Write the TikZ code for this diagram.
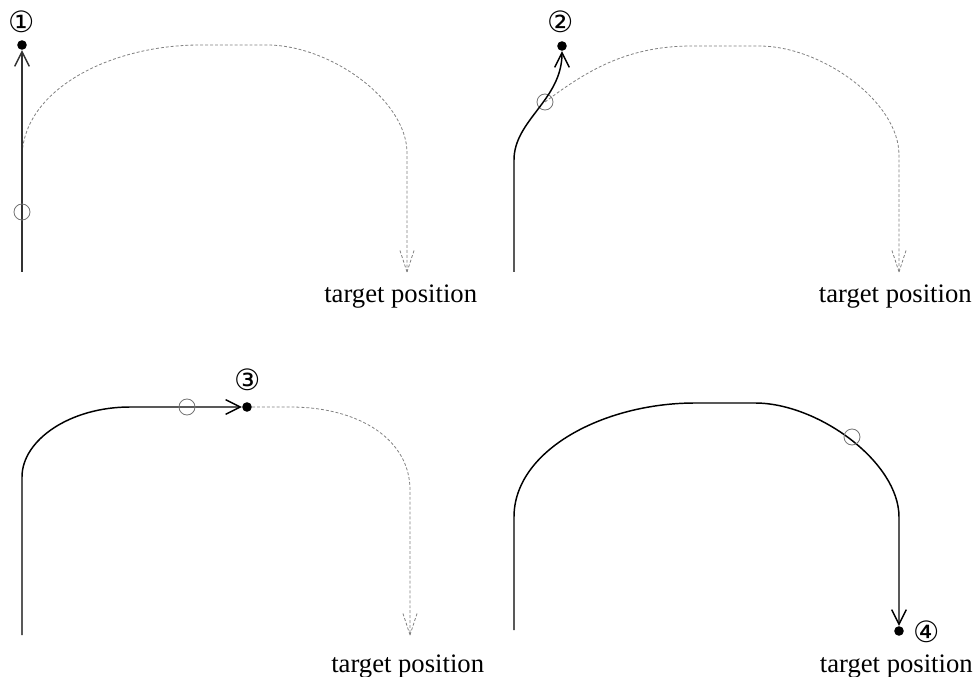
\documentclass[tikz,border=0pt]{standalone}
\usepackage{fontspec}
\setmainfont{Liberation Serif}
\newfontfamily\symfont{DejaVu Sans}
\usetikzlibrary{arrows.meta}
\begin{document}
\begin{tikzpicture}[x=0.75pt,y=-0.75pt,
  pathline/.style={line width=1.1pt, black},
  ghostline/.style={line width=0.6pt, black!50, dash pattern=on 2.2pt off 1.5pt},
  barb/.style={-{Straight Barb[length=11pt,width=11pt,line width=1.1pt]}},
  marker/.style={circle, draw=black!55, line width=0.6pt, minimum size=12pt, inner sep=0pt},
  dotmark/.style={circle, fill=black, minimum size=7.2pt, inner sep=0pt},
  numlabel/.style={font=\symfont\fontsize{22}{22}\selectfont, inner sep=0pt},
  targetlabel/.style={font=\fontsize{20}{22}\selectfont, inner sep=0pt}
]
\useasboundingbox (0,0) rectangle (975,677);

% ---------- Panel 1 ----------
\coordinate (p1s) at (22,272);
\node[dotmark] (d1) at (22,45) {};
\node[numlabel] (n1) at (22,22) {①};
\coordinate (g1a) at (22,158);
\coordinate (g1b) at (200,45);
\coordinate (g1c) at (267,45);
\coordinate (g1d) at (407,153);
\coordinate (g1t) at (407,272);
\draw[ghostline] (g1a) .. controls (22,90) and (110,45) .. (g1b) -- (g1c)
  .. controls (330,45) and (407,100) .. (g1d) -- (g1t);
\draw[ghostline] (g1t) -- ++(-7.5,-23) (g1t) -- ++(7.5,-23);
\draw[pathline,black!80,barb] (p1s) -- (d1);
\node[marker] (c1) at (22,212) {};
\node[targetlabel, anchor=base west] (t1) at (324,303) {target position};

% ---------- Panel 2 ----------
\coordinate (p2s) at (514,272);
\coordinate (p2a) at (514,160);
\node[dotmark] (d2) at (562,46) {};
\node[numlabel] (n2) at (561,22) {②};
\node[marker] (c2) at (545,102) {};
\coordinate (g2b) at (692,46);
\coordinate (g2c) at (759,46);
\coordinate (g2d) at (899,155);
\coordinate (g2t) at (899,272);
\draw[ghostline] (c2.center) .. controls (590,68) and (630,46) .. (g2b) -- (g2c)
  .. controls (822,46) and (899,102) .. (g2d) -- (g2t);
\draw[ghostline] (g2t) -- ++(-7.5,-23) (g2t) -- ++(7.5,-23);
\draw[pathline,barb] (p2s) -- (p2a) .. controls (514,120) and (562,100) .. (d2);
\node[targetlabel, anchor=base east] (t2) at (972,303) {target position};

% ---------- Panel 3 ----------
\coordinate (p3s) at (22,635);
\coordinate (p3a) at (22,477);
\coordinate (p3b) at (130,407);
\node[dotmark] (d3) at (247,407) {};
\node[numlabel] (n3) at (248,380) {③};
\coordinate (g3b) at (290,407);
\coordinate (g3d) at (410,490);
\coordinate (g3t) at (410,635);
\draw[ghostline] (d3) -- (g3b) .. controls (360,407) and (410,440) .. (g3d) -- (g3t);
\draw[ghostline] (g3t) -- ++(-7.5,-23) (g3t) -- ++(7.5,-23);
\draw[pathline,barb] (p3s) -- (p3a) .. controls (22,440) and (70,407) .. (p3b) -- (d3);
\node[marker] (c3) at (187,407) {};
\node[targetlabel, anchor=base west] (t3) at (331,672) {target position};

% ---------- Panel 4 ----------
\coordinate (p4s) at (514,630);
\coordinate (p4a) at (514,517);
\coordinate (p4b) at (695,403);
\coordinate (p4c) at (755,403);
\coordinate (p4d) at (899,517);
\node[dotmark] (d4) at (899,631) {};
\node[numlabel] (n4) at (927,632) {④};
\draw[pathline,barb] (p4s) -- (p4a) .. controls (514,450) and (604,403) .. (p4b) -- (p4c)
  .. controls (818,403) and (899,462) .. (p4d) -- (d4);
\node[marker] (c4) at (852,437) {};
\node[targetlabel, anchor=base east] (t4) at (973,672) {target position};
\end{tikzpicture}
\end{document}
